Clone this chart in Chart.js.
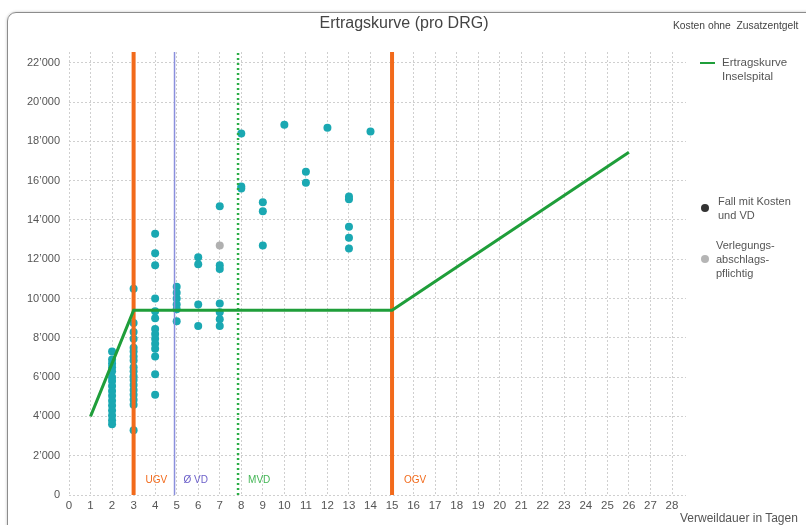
<!DOCTYPE html>
<html><head><meta charset="utf-8">
<script src="https://cdn.jsdelivr.net/npm/chart.js@4/dist/chart.umd.min.js"></script>
<style>
body{margin:0;background:#fff;font-family:"Liberation Sans",Arial,sans-serif;}
#wrap{position:relative;width:806px;height:525px;overflow:hidden;background:#fff;}
#frame{position:absolute;left:7px;top:12px;width:830px;height:540px;border:1.5px solid #8c8c8c;border-radius:9px;box-shadow:0 0 3px rgba(0,0,0,0.25);}
canvas{position:absolute;left:0;top:0;}
.t{position:absolute;color:#555;white-space:nowrap;}
.dot{position:absolute;width:8px;height:8px;border-radius:50%;}
</style></head><body>
<div id="wrap">
<div id="frame"></div>
<canvas id="c" width="806" height="525"></canvas>
<div class="t" style="left:0;width:808px;text-align:center;top:14px;font-size:16px;color:#444;">Ertragskurve (pro DRG)</div>
<div class="t" style="left:673px;top:20px;font-size:10.3px;color:#444;">Kosten ohne&nbsp; Zusatzentgelt</div>
<div style="position:absolute;left:700px;top:62px;width:15px;height:2px;background:#1f9e3a;"></div>
<div class="t" style="left:722px;top:55px;font-size:11.5px;line-height:14px;">Ertragskurve<br>Inselspital</div>
<div class="dot" style="left:701px;top:204px;background:#333;"></div>
<div class="t" style="left:718px;top:194px;font-size:11px;line-height:14px;">Fall mit Kosten<br>und VD</div>
<div class="dot" style="left:701px;top:255px;background:#b5b5b5;"></div>
<div class="t" style="left:716px;top:238px;font-size:11px;line-height:14px;">Verlegungs-<br>abschlags-<br>pflichtig</div>
<div class="t" style="left:680px;top:511px;font-size:12px;">Verweildauer in Tagen</div>
</div>
<script>
// Ertragskurve (revenue curve)
const curveDays = [1, 3, 15, 26];
const curveValues = [4000, 9400, 9400, 17450];

// Cases with costs and length of stay
const caseDays = [
  2,2,2,2,2,2,2,2,2,2,2,2,2,2,2,2,
  3,3,3,3,3,3,3,3,3,3,3,3,3,3,3,3,3,3,
  4,4,4,4,4,4,4,4,4,4,4,4,4,4,
  5,5,5,5,5,5,
  6,6,6,6,
  7,7,7,7,7,7,7,
  8,8,8,
  9,9,9,
  10,
  11,11,
  12,
  13,13,13,13,13,
  14
];
const caseCosts = [
  7300,6900,6700,6500,6300,6000,5800,5550,5300,5050,4800,4550,4300,4050,3800,3600,
  10500,8750,8300,7950,7500,7300,7050,6850,6500,6300,6050,5850,5600,5350,5100,4850,4600,3300,
  13300,12300,11700,10000,9350,9000,8450,8200,7950,7700,7450,7050,6150,5100,
  10600,10300,10000,9700,9450,8850,
  12100,11750,9700,8600,
  14700,11700,11500,9750,9300,8950,8600,
  18400,15700,15600,
  14900,14450,12700,
  18850,
  16450,15900,
  18700,
  15200,15050,13650,13100,12550,
  18500
];

// Transfer-discount cases
const transferDays = [7];
const transferCosts = [12700];

// Vertical markers
const markerNames = ['UGV', 'Ø VD', 'MVD', 'OGV'];
const markerDays = [3, 4.9, 7.85, 15];

// Axis ticks
const xTicks = [0,1,2,3,4,5,6,7,8,9,10,11,12,13,14,15,16,17,18,19,20,21,22,23,24,25,26,27,28];
const yTicks = [0,2000,4000,6000,8000,10000,12000,14000,16000,18000,20000,22000];
const xMin = 0, xMax = 28.65;
const yMin = 0, yMax = 22550;

// styles (not data)
const markerColors = ['#f26a1b', '#8a8fdc', '#2aae45', '#f26a1b'];
const markerWidths = [4, 1.5, 2.5, 4];
const markerDash = [[], [], [2, 3], []];
const markerLabelColors = ['#f26a1b', '#6b5fc9', '#43b655', '#f26a1b'];
const markerLabelOffsets = [12, 9, 10, 12];

const toPts = (xs, ys) => xs.map((v, i) => ({x: v, y: ys[i]}));

const markerDatasets = markerDays.map((d, i) => ({
  label: markerNames[i],
  data: [{x: d, y: yMin}, {x: d, y: yMax}],
  showLine: true,
  borderColor: markerColors[i],
  borderWidth: markerWidths[i],
  borderDash: markerDash[i],
  pointRadius: 0,
  fill: false
}));

const markerLabelPlugin = {
  id: 'markerLabels',
  afterDatasetsDraw(chart) {
    const {ctx, chartArea, scales} = chart;
    ctx.save();
    ctx.font = '10px "Liberation Sans", Arial, sans-serif';
    ctx.textBaseline = 'middle';
    markerDays.forEach((d, i) => {
      ctx.fillStyle = markerLabelColors[i];
      ctx.fillText(markerNames[i], scales.x.getPixelForValue(d) + markerLabelOffsets[i], chartArea.bottom - 15);
    });
    ctx.restore();
  }
};

const fmt = v => {
  const s = Math.round(v).toString();
  return s.length > 3 ? s.slice(0, -3) + '\u2019' + s.slice(-3) : s;
};

new Chart(document.getElementById('c'), {
  type: 'scatter',
  data: {
    datasets: [
      {
        label: 'Ertragskurve Inselspital',
        data: toPts(curveDays, curveValues),
        showLine: true,
        borderColor: '#1f9e3a',
        borderWidth: 3,
        pointRadius: 0,
        fill: false
      },
      ...markerDatasets,
      {
        label: 'Fall mit Kosten und VD',
        data: toPts(caseDays, caseCosts),
        backgroundColor: '#1aa8b2',
        borderColor: '#1aa8b2',
        pointRadius: 4,
        borderWidth: 0
      },
      {
        label: 'Verlegungsabschlagspflichtig',
        data: toPts(transferDays, transferCosts),
        backgroundColor: '#b0b0b0',
        borderColor: '#b0b0b0',
        pointRadius: 4,
        borderWidth: 0
      }
    ]
  },
  options: {
    responsive: false,
    animation: false,
    layout: {padding: {left: 0, top: 52, right: 120, bottom: 0}},
    plugins: {legend: {display: false}, tooltip: {enabled: false}, title: {display: false}},
    scales: {
      x: {
        type: 'linear', min: xMin, max: xMax,
        afterBuildTicks: s => { s.ticks = xTicks.map(v => ({value: v})); },
        afterFit: s => { s.height = 30; },
        ticks: {color: '#555', padding: 4, maxRotation: 0, autoSkip: false,
                font: {family: '"Liberation Sans", Arial, sans-serif', size: 11.5}},
        grid: {color: '#cfcfcf', lineWidth: 1, drawTicks: false},
        border: {display: false, dash: [2, 2]}
      },
      y: {
        type: 'linear', min: yMin, max: yMax,
        afterBuildTicks: s => { s.ticks = yTicks.map(v => ({value: v})); },
        afterFit: s => { s.width = 69; },
        ticks: {color: '#555', padding: 9, autoSkip: false, callback: v => fmt(v),
                font: {family: '"Liberation Sans", Arial, sans-serif', size: 11}},
        grid: {color: '#cfcfcf', lineWidth: 1, drawTicks: false},
        border: {display: false, dash: [2, 2]}
      }
    }
  },
  plugins: [markerLabelPlugin]
});
</script>
</body></html>
